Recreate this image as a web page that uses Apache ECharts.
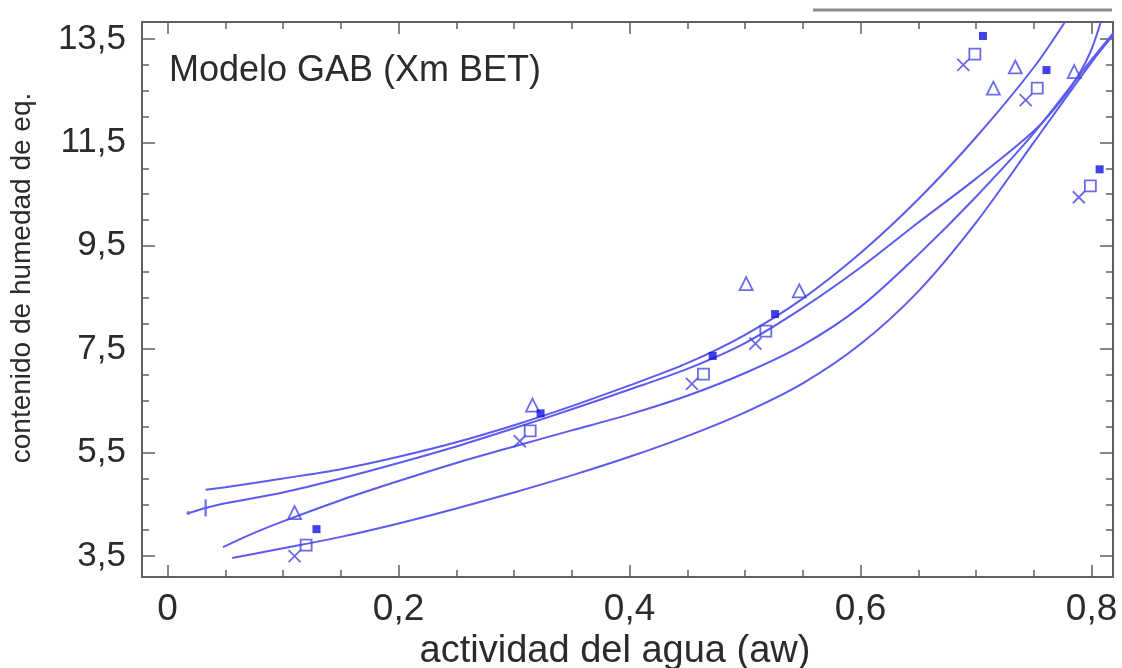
<!DOCTYPE html>
<html>
<head>
<meta charset="utf-8">
<script src="https://cdn.jsdelivr.net/npm/echarts@6/dist/echarts.min.js"></script>
<style>
  html, body { margin: 0; padding: 0; background: #ffffff; }
  #chart { width: 1122px; height: 668px; }
</style>
</head>
<body>
<div id="chart"></div>
<script>
// Isotermas de sorción: modelo GAB ajustado (Xm BET), cuatro curvas y sus datos experimentales
const xTickLabels = [0, 0.2, 0.4, 0.6, 0.8];
const xMinorTicks = [0, 0.05, 0.1, 0.15, 0.2, 0.25, 0.3, 0.35, 0.4, 0.45, 0.5, 0.55, 0.6, 0.65, 0.7, 0.75, 0.8];
const yTickLabels = [3.5, 5.5, 7.5, 9.5, 11.5, 13.5];
const yMinorTicks = [3.5, 4, 4.5, 5, 5.5, 6, 6.5, 7, 7.5, 8, 8.5, 9, 9.5, 10, 10.5, 11, 11.5, 12, 12.5, 13, 13.5];

// Curvas del modelo [aw, contenido de humedad]
const curveA = [[0.033, 4.78], [0.05, 4.83], [0.1, 5.00], [0.15, 5.18], [0.2, 5.42], [0.25, 5.70], [0.3, 6.03],
  [0.35, 6.40], [0.4, 6.80], [0.45, 7.23], [0.5, 7.78], [0.55, 8.48], [0.6, 9.36], [0.65, 10.40], [0.7, 11.60],
  [0.75, 12.95], [0.777, 13.83]];
const curveB = [[0.018, 4.33], [0.033, 4.43], [0.05, 4.52], [0.1, 4.73], [0.15, 5.00], [0.2, 5.30], [0.25, 5.62],
  [0.3, 5.97], [0.35, 6.34], [0.4, 6.72], [0.45, 7.12], [0.5, 7.62], [0.55, 8.30], [0.6, 9.08], [0.65, 9.95],
  [0.7, 10.80], [0.75, 11.72], [0.775, 12.35], [0.79, 12.85], [0.8, 13.30], [0.808, 13.83]];
const curveC = [[0.048, 3.67], [0.07, 3.90], [0.1, 4.17], [0.15, 4.58], [0.2, 4.95], [0.25, 5.30], [0.3, 5.62],
  [0.35, 5.93], [0.4, 6.24], [0.45, 6.60], [0.5, 7.04], [0.55, 7.58], [0.6, 8.32], [0.65, 9.33], [0.7, 10.45],
  [0.75, 11.68], [0.8, 13.10], [0.819, 13.62]];
const curveD = [[0.056, 3.46], [0.1, 3.65], [0.15, 3.87], [0.2, 4.13], [0.25, 4.42], [0.3, 4.73], [0.35, 5.06],
  [0.4, 5.42], [0.45, 5.82], [0.5, 6.28], [0.55, 6.84], [0.6, 7.60], [0.65, 8.62], [0.7, 9.95], [0.75, 11.50],
  [0.8, 13.05], [0.819, 13.58]];

// Datos experimentales [aw, contenido de humedad]
const serieTriangulo = [[0.110, 4.34], [0.316, 6.42], [0.501, 8.77], [0.547, 8.63], [0.715, 12.55], [0.734, 12.96], [0.785, 12.87]];
const serieCuadradoLleno = [[0.129, 4.02], [0.323, 6.26], [0.472, 7.37], [0.526, 8.18], [0.706, 13.56], [0.761, 12.90], [0.807, 10.98]];
const serieCuadrado = [[0.120, 3.71], [0.314, 5.92], [0.464, 7.02], [0.518, 7.85], [0.699, 13.21], [0.753, 12.55], [0.799, 10.66]];
const serieAspa = [[0.110, 3.50], [0.305, 5.72], [0.454, 6.83], [0.509, 7.61], [0.689, 13.00], [0.743, 12.32], [0.789, 10.44]];

// Trazos sueltos al inicio de la curva B
const inicioCurvaB = [[0.018, 4.33]];
const marcaCurvaB = [[0.033, 4.43]];

const X_MIN = -0.0221, X_MAX = 0.8186;
const Y_MIN = 3.094, Y_MAX = 13.83;

const AXIS_COLOR = '#5f5f5f';
const TEXT_COLOR = '#2b2b2b';
const LINE_COLOR = '#5b5bef';
const MARK_COLOR = '#4646e2';
const FILL_COLOR = '#1212df';
const FONT = '"Liberation Sans", Arial, sans-serif';

const comma = v => (v === 0 ? '0' : String(v).replace('.', ','));

function xAxisDef(position, ticks, len, withLabels) {
  return {
    type: 'value', position, min: X_MIN, max: X_MAX,
    axisLine: { show: true, onZero: false, lineStyle: { color: AXIS_COLOR, width: 2 } },
    axisTick: { show: true, inside: true, length: len, customValues: ticks, lineStyle: { color: AXIS_COLOR, width: 1.5 } },
    axisLabel: withLabels
      ? { show: true, customValues: xTickLabels, formatter: comma, fontSize: 37, color: TEXT_COLOR, fontFamily: FONT, margin: 14 }
      : { show: false },
    splitLine: { show: false }
  };
}

function yAxisDef(position, ticks, len, withLabels) {
  return {
    type: 'value', position, min: Y_MIN, max: Y_MAX,
    axisLine: { show: true, onZero: false, lineStyle: { color: AXIS_COLOR, width: 2 } },
    axisTick: { show: true, inside: true, length: len, customValues: ticks, lineStyle: { color: AXIS_COLOR, width: 1.5 } },
    axisLabel: withLabels
      ? { show: true, customValues: yTickLabels, formatter: v => v.toFixed(1).replace('.', ','), fontSize: 35, color: TEXT_COLOR, fontFamily: FONT, margin: 16 }
      : { show: false },
    splitLine: { show: false }
  };
}

function curve(name, data) {
  return {
    name, type: 'line', data, smooth: 0.3, showSymbol: false, silent: true, z: 2,
    lineStyle: { color: LINE_COLOR, width: 2 }
  };
}

function marks(name, data, symbol, size, filled) {
  return {
    name, type: 'scatter', data, symbol, symbolSize: size, z: 3,
    itemStyle: filled
      ? { color: FILL_COLOR }
      : { color: 'rgba(255,255,255,0)', borderColor: MARK_COLOR, borderWidth: 1.8 }
  };
}

const chart = echarts.init(document.getElementById('chart'), null, { renderer: 'canvas' });
chart.setOption({
  animation: false,
  backgroundColor: '#ffffff',
  grid: { left: 142, right: 9, top: 22, bottom: 91 },
  xAxis: [
    xAxisDef('bottom', xTickLabels, 12, true),
    xAxisDef('bottom', xMinorTicks, 7, false),
    xAxisDef('top', xTickLabels, 12, false),
    xAxisDef('top', xMinorTicks, 7, false)
  ],
  yAxis: [
    yAxisDef('left', yTickLabels, 13, true),
    yAxisDef('left', yMinorTicks, 7, false),
    yAxisDef('right', yTickLabels, 13, false),
    yAxisDef('right', yMinorTicks, 7, false)
  ],
  series: [
    curve('GAB A', curveA),
    curve('GAB B', curveB),
    curve('GAB C', curveC),
    curve('GAB D', curveD),
    {
      type: 'scatter', data: inicioCurvaB, symbol: 'circle', symbolSize: 4, z: 3,
      itemStyle: { color: LINE_COLOR }
    },
    {
      type: 'scatter', data: marcaCurvaB, symbol: 'rect', symbolSize: [2.5, 17], z: 3,
      itemStyle: { color: LINE_COLOR }
    },
    marks('triángulo', serieTriangulo, 'triangle', 13, false),
    marks('cuadrado lleno', serieCuadradoLleno, 'rect', 8, true),
    marks('cuadrado', serieCuadrado, 'rect', 11, false),
    marks('aspa', serieAspa, 'path://M0,0L10,10M10,0L0,10', 12, false)
  ],
  graphic: [
    {
      type: 'text', left: 169, top: 53,
      style: { text: 'Modelo GAB (Xm BET)', fontSize: 36, fontFamily: FONT, fill: TEXT_COLOR }
    },
    {
      type: 'text', x: 615, y: 652,
      style: { text: 'actividad del agua (aw)', fontSize: 38, fontFamily: FONT, fill: TEXT_COLOR, align: 'center', verticalAlign: 'middle' }
    },
    {
      type: 'text', x: 22, y: 278, rotation: Math.PI / 2,
      style: { text: 'contenido de humedad de eq.', fontSize: 28, fontFamily: FONT, fill: TEXT_COLOR, align: 'center', verticalAlign: 'middle' }
    },
    {
      type: 'line', shape: { x1: 813, y1: 10, x2: 1112, y2: 10 },
      style: { stroke: '#8c8c8c', lineWidth: 3 }
    }
  ]
});
</script>
</body>
</html>
